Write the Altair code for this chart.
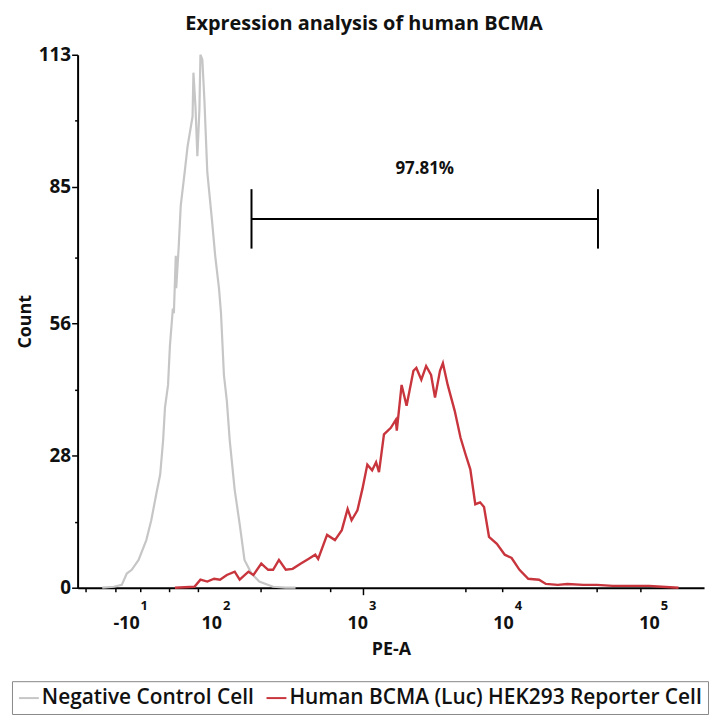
import math
import altair as alt
import pandas as pd

# ---------------- data ----------------
# x values are in display decades (2 -> 10^2, 3 -> 10^3 ...), y = count
gray_x = [1.213, 1.293, 1.347, 1.381, 1.415, 1.462, 1.515, 1.549, 1.583, 1.610,
          1.630, 1.643, 1.664, 1.677, 1.697, 1.704, 1.717, 1.720, 1.737, 1.751,
          1.778, 1.798, 1.832, 1.838, 1.852, 1.865, 1.879, 1.886, 1.899, 1.913,
          1.933, 1.966, 1.987, 2.013, 2.027, 2.047, 2.067, 2.087, 2.121, 2.155,
          2.188, 2.236, 2.289, 2.384, 2.471, 2.538]
gray_y = [0.0, 0.2, 0.6, 3.0, 3.8, 5.9, 10.1, 14.3, 19.8, 24.0,
          31.2, 38.2, 43.0, 51.4, 59.2, 58.2, 70.4, 63.5, 72.3, 81.0,
          88.1, 93.6, 99.9, 109.2, 102.0, 91.5, 101.4, 113.0, 112.0, 103.5,
          88.1, 77.6, 70.4, 63.5, 58.2, 45.1, 39.6, 31.2, 20.7, 13.5,
          5.9, 3.0, 1.3, 0.2, 0.0, 0.0]

red_x = [1.711, 1.845, 1.886, 1.933, 1.980, 2.020, 2.067, 2.121, 2.155, 2.215,
         2.249, 2.303, 2.350, 2.384, 2.424, 2.471, 2.518, 2.572, 2.626, 2.673,
         2.693, 2.754, 2.808, 2.855, 2.895, 2.922, 2.962, 2.996, 3.030, 3.063,
         3.090, 3.110, 3.144, 3.191, 3.225, 3.232, 3.265, 3.299, 3.346, 3.366,
         3.400, 3.433, 3.467, 3.494, 3.528, 3.548, 3.581, 3.629, 3.669, 3.703,
         3.736, 3.770, 3.803, 3.830, 3.864, 3.918, 3.972, 4.019, 4.073, 4.133,
         4.207, 4.254, 4.335, 4.402, 4.510, 4.604, 4.712, 4.826, 4.961, 5.048,
         5.163]
red_y = [0.0, 0.2, 1.7, 1.3, 1.9, 1.7, 2.7, 3.4, 1.7, 3.4,
         2.7, 5.1, 3.8, 3.8, 5.9, 3.8, 4.0, 5.1, 6.1, 7.0,
         6.1, 11.2, 10.1, 12.2, 16.7, 14.3, 16.4, 20.9, 26.1, 24.9,
         26.6, 24.5, 32.5, 33.9, 35.6, 33.3, 43.0, 38.6, 46.0, 46.6,
         44.1, 47.0, 45.1, 40.3, 46.0, 47.6, 43.0, 37.5, 31.8, 28.3,
         25.1, 17.7, 18.1, 17.1, 10.8, 9.3, 7.0, 6.3, 3.8, 1.9,
         1.7, 0.8, 0.6, 0.8, 0.6, 0.6, 0.4, 0.4, 0.4, 0.2,
         0.0]

series_names = ["Negative Control Cell", "Human BCMA (Luc) HEK293 Reporter Cell"]
series_colors = ["#c6c6c6", "#c8353d"]

y_major = [0, 28, 56, 85, 113]
y_minor = [7, 14, 21, 35, 42, 49, 63, 70, 77, 92, 99, 106]

x_major_pos = [1.435, 2, 3, 4, 5]
x_major_base = ["-10", "10", "10", "10", "10"]
x_major_exp = ["1", "2", "3", "4", "5"]
x_lin_minor = [1.10, 1.15, 1.20, 1.25, 1.30, 1.35, 1.40, 1.47, 1.52, 1.57,
               1.62, 1.67, 1.72, 1.77, 1.82, 1.87, 1.92, 1.96]
x_log_minor = [d + math.log10(k) for d in (2, 3, 4, 5) for k in range(2, 10)
               if d + math.log10(k) < 5.338]

gate_left, gate_right = 2.236, 4.611
gate_y, gate_y_lo, gate_y_hi = 78.2, 71.9, 84.5
gate_label = "97.81%"
gate_label_y = 88.8

x_domain = [1.044, 5.338]
y_domain = [0, 113]

FONT = "Open Sans"
W, H = 630, 536

# ---------------- build tables ----------------
gray_df = pd.DataFrame({"x": gray_x, "y": gray_y, "series": series_names[0],
                        "i": range(len(gray_x))})
red_df = pd.DataFrame({"x": red_x, "y": red_y, "series": series_names[1],
                       "i": range(len(red_x))})
tick_df = pd.DataFrame({"pos": x_major_pos, "base": x_major_base, "exp": x_major_exp})
gate_v_df = pd.DataFrame({"x": [gate_left, gate_right], "y": [gate_y_lo] * 2,
                          "y2": [gate_y_hi] * 2})
gate_h_df = pd.DataFrame({"x": [gate_left], "x2": [gate_right], "y": [gate_y]})
gate_t_df = pd.DataFrame({"x": [(gate_left + gate_right) / 2], "y": [gate_label_y],
                          "t": [gate_label]})

major_test_x = "datum.value == round(datum.value) || datum.value == 1.435"
x_scale = alt.Scale(domain=x_domain, nice=False, zero=False)
y_scale = alt.Scale(domain=y_domain, nice=False)

x_axis = alt.Axis(
    values=x_major_pos + x_lin_minor + x_log_minor,
    labels=False, grid=False, title="PE-A",
    tickSize={"condition": {"test": major_test_x, "value": 7}, "value": 4},
    titlePadding=45,
)
y_axis = alt.Axis(
    values=y_major + y_minor, grid=False, title="Count",
    labelExpr="indexof([0,28,56,85,113], datum.value) >= 0 ? datum.label : ''",
    tickSize={"condition": {"test": "indexof([0,28,56,85,113], datum.value) >= 0",
                            "value": 6}, "value": 3},
    labelPadding=1, titlePadding=4,
)

color = alt.Color(
    "series:N",
    scale=alt.Scale(domain=series_names, range=series_colors),
    legend=alt.Legend(
        title=None, orient="none", direction="horizontal",
        legendX=-66, legendY=630,
        symbolType="stroke", symbolStrokeWidth=2, symbolSize=400,
        labelFontSize=21, labelFont=FONT, labelFontWeight=600, labelLimit=0,
        labelColor="#111", strokeColor="#888", padding=6,
        columnPadding=8, labelOffset=2,
    ),
)

gray_line = alt.Chart(gray_df).mark_line(strokeWidth=2.2).encode(
    x=alt.X("x:Q", scale=x_scale, axis=x_axis),
    y=alt.Y("y:Q", scale=y_scale, axis=y_axis),
    color=color, order="i:Q",
)
red_line = alt.Chart(red_df).mark_line(strokeWidth=2.4).encode(
    x=alt.X("x:Q", scale=x_scale), y=alt.Y("y:Q", scale=y_scale),
    color=color, order="i:Q",
)

tick_base = alt.Chart(tick_df).mark_text(
    font=FONT, fontSize=18, fontWeight="bold", align="right", dx=5, color="#111"
).encode(x=alt.X("pos:Q", scale=x_scale), y=alt.value(H + 37), text="base:N")
tick_exp = alt.Chart(tick_df).mark_text(
    font=FONT, fontSize=13, fontWeight="bold", align="left", dx=6, color="#111"
).encode(x=alt.X("pos:Q", scale=x_scale), y=alt.value(H + 18), text="exp:N")

gate_v = alt.Chart(gate_v_df).mark_rule(color="black", strokeWidth=2).encode(
    x=alt.X("x:Q", scale=x_scale), y=alt.Y("y:Q", scale=y_scale), y2="y2:Q")
gate_h = alt.Chart(gate_h_df).mark_rule(color="black", strokeWidth=2).encode(
    x=alt.X("x:Q", scale=x_scale), x2="x2:Q", y=alt.Y("y:Q", scale=y_scale))
gate_t = alt.Chart(gate_t_df).mark_text(
    font=FONT, fontSize=17, fontWeight="bold", color="#111"
).encode(x=alt.X("x:Q", scale=x_scale), y=alt.Y("y:Q", scale=y_scale), text="t:N")

chart = alt.layer(
    gray_line, red_line, gate_h, gate_v, gate_t, tick_base, tick_exp
).properties(
    width=W, height=H,
    title=alt.TitleParams("Expression analysis of human BCMA", font=FONT,
                          fontSize=20, fontWeight="bold", color="#111",
                          anchor="middle", offset=12, dx=-27),
    padding={"left": 3, "right": 0, "top": 4, "bottom": 0},
).configure_view(stroke=None).configure_axis(
    domainColor="black", domainWidth=2, tickColor="black", tickWidth=1.5,
    labelFont=FONT, labelFontSize=19, labelFontWeight="bold", labelColor="#111",
    titleFont=FONT, titleFontSize=18, titleFontWeight="bold", titleColor="#111",
)

chart.save("out.html", embed_options={"renderer": "svg", "actions": False})
